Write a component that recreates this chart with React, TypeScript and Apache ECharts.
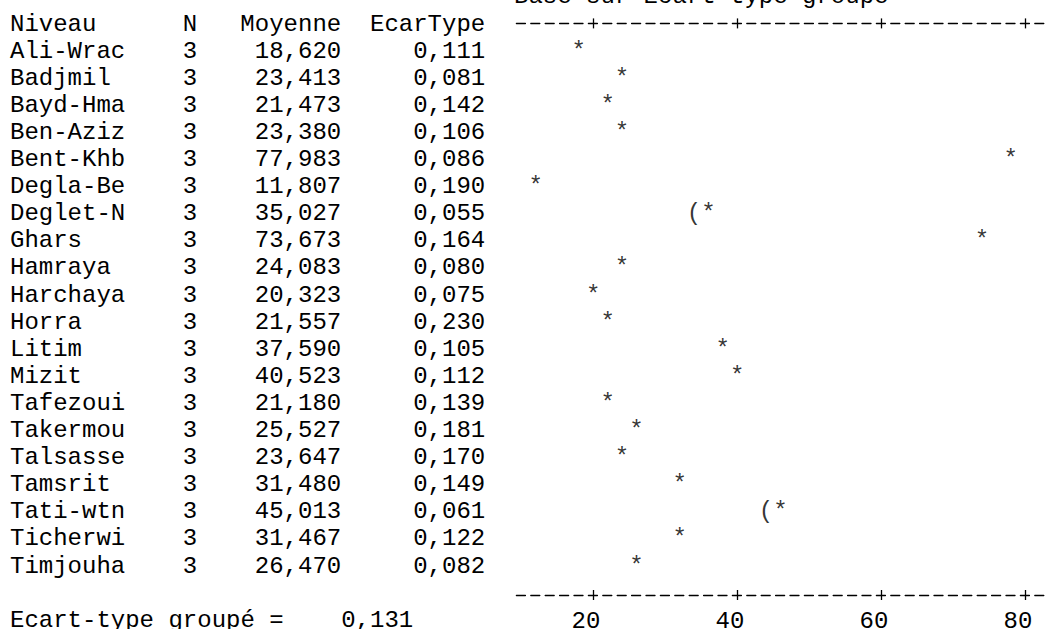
import React, { useEffect, useRef } from "react";
import * as echarts from "echarts";

// ---- data ----
const levels = [
  "Ali-Wrac", "Badjmil", "Bayd-Hma", "Ben-Aziz", "Bent-Khb", "Degla-Be", "Deglet-N",
  "Ghars", "Hamraya", "Harchaya", "Horra", "Litim", "Mizit", "Tafezoui", "Takermou",
  "Talsasse", "Tamsrit", "Tati-wtn", "Ticherwi", "Timjouha",
];
const counts = [3, 3, 3, 3, 3, 3, 3, 3, 3, 3, 3, 3, 3, 3, 3, 3, 3, 3, 3, 3];
const means = [
  18.62, 23.413, 21.473, 23.38, 77.983, 11.807, 35.027, 73.673, 24.083, 20.323,
  21.557, 37.59, 40.523, 21.18, 25.527, 23.647, 31.48, 45.013, 31.467, 26.47,
];
const stdevs = [
  0.111, 0.081, 0.142, 0.106, 0.086, 0.19, 0.055, 0.164, 0.08, 0.075,
  0.23, 0.105, 0.112, 0.139, 0.181, 0.17, 0.149, 0.061, 0.122, 0.082,
];
const pooledStdev = 0.131;
const tCritical = 2.021; // t(0.975; 40 dl)
const tickValues = [20, 40, 60, 80];
const axisMin = 9;
const axisMax = 83;
const unitsPerChar = 2; // character plot: one column = 2 units
const headers = ["Niveau", "N", "Moyenne", "EcarType"];
const titleText = "Basé sur Ecart-type groupé";
const pooledLabel = "Ecart-type groupé =";

// ---- layout / style ----
const FONT = "'Liberation Mono', 'Courier New', monospace";
const FS = 24;
const CW = 14.4; // char width
const X0 = 10; // left of column 0
const ROW = 27.1;
const Y0 = 24; // centre of header row
const GRID_LEFT = X0 + 35 * CW;
const GRID_W = (axisMax - axisMin) * (CW / unitsPerChar);
const GRID_TOP = Y0 + ROW * 0.5;
const GRID_H = ROW * levels.length;

const fmt = (v: number) => v.toFixed(3).replace(".", ",");
const snap = (v: number) =>
  tickValues[0] + unitsPerChar * Math.round((v - tickValues[0]) / unitsPerChar);

export default function App() {
  const ref = useRef<HTMLDivElement>(null);
  useEffect(() => {
    const chart = echarts.init(ref.current!, null, { renderer: "svg" });
    const txt = { fontFamily: FONT, fontSize: FS, color: "#000", lineHeight: 24 };
    const rowRich: any = {
      n: { ...txt, width: 12 * CW, align: "left" },
      c: { ...txt, width: CW, align: "left" },
      m: { ...txt, width: 10 * CW, align: "right" },
      s: { ...txt, width: 10 * CW, align: "right" },
    };

    const starData = means.map((m, i) => [snap(m), levels[i]]);
    const openData: any[] = [];
    const closeData: any[] = [];
    means.forEach((m, i) => {
      const h = (tCritical * pooledStdev) / Math.sqrt(counts[i]);
      const lo = snap(m - h);
      const hi = snap(m + h);
      if (lo !== snap(m)) openData.push([lo, levels[i]]);
      if (hi !== snap(m)) closeData.push([hi, levels[i]]);
    });

    const dashLine = {
      show: true,
      lineStyle: { color: "#000", width: 1.3, type: [9, 5.4], dashOffset: 11.7 },
    };
    const tickBase = {
      show: true,
      length: 5,
      customValues: tickValues,
      lineStyle: { color: "#000", width: 1.3 },
    };
    const baseX = {
      type: "value",
      min: axisMin,
      max: axisMax,
      splitLine: { show: false },
      gridIndex: 0,
    };
    const gtext = (text: string, x: number, y: number, align: string) => ({
      type: "text",
      x,
      y,
      silent: true,
      style: {
        text,
        font: `${FS}px ${FONT}`,
        fill: "#000",
        align,
        textAlign: align,
        verticalAlign: "middle",
        textVerticalAlign: "middle",
      },
    });

    const labelStyle = (ch: string) => ({
      show: true,
      position: "inside",
      formatter: ch,
      fontFamily: FONT,
      fontSize: FS,
      color: "#000",
    });
    const scatterBase = {
      type: "scatter",
      symbol: "circle",
      symbolSize: 1,
      itemStyle: { color: "rgba(0,0,0,0)" },
      silent: true,
      xAxisIndex: 0,
      yAxisIndex: 0,
    };

    chart.setOption({
      animation: false,
      backgroundColor: "#fff",
      grid: {
        left: GRID_LEFT,
        top: GRID_TOP,
        width: GRID_W,
        height: GRID_H,
        containLabel: false,
        outerBoundsMode: "none",
      },
      xAxis: [
        {
          ...baseX,
          position: "bottom",
          offset: 595 - (GRID_TOP + GRID_H),
          axisLine: dashLine,
          axisTick: { ...tickBase, inside: false },
          axisLabel: {
            show: true,
            customValues: tickValues,
            margin: 26,
            verticalAlign: "middle",
            formatter: (v: number) => `{a|${v}}`,
            rich: { a: { ...txt, width: 3 * CW, align: "left" } },
          },
        },
        {
          ...baseX,
          position: "bottom",
          offset: 595 - (GRID_TOP + GRID_H),
          axisLine: { show: false },
          axisTick: { ...tickBase, inside: true },
          axisLabel: { show: false },
        },
        {
          ...baseX,
          position: "top",
          offset: GRID_TOP - 23.4,
          axisLine: dashLine,
          axisTick: { ...tickBase, inside: false },
          axisLabel: { show: false },
        },
        {
          ...baseX,
          position: "top",
          offset: GRID_TOP - 23.4,
          axisLine: { show: false },
          axisTick: { ...tickBase, inside: true },
          axisLabel: { show: false },
        },
      ],
      yAxis: {
        type: "category",
        data: levels,
        inverse: true,
        axisLine: { show: false },
        axisTick: { show: false },
        splitLine: { show: false },
        axisLabel: {
          interval: 0,
          margin: GRID_LEFT - (X0 + 33 * CW),
          formatter: (_v: string, i: number) =>
            `{n|${levels[i]}}{c|${counts[i]}}{m|${fmt(means[i])}}{s|${fmt(stdevs[i])}}`,
          rich: rowRich,
        },
      },
      graphic: [
        gtext(titleText, X0 + 35 * CW, Y0 - ROW, "left"),
        gtext(headers[0], X0, Y0, "left"),
        gtext(headers[1], X0 + 12 * CW, Y0, "left"),
        gtext(headers[2], X0 + 23 * CW, Y0, "right"),
        gtext(headers[3], X0 + 33 * CW, Y0, "right"),
        gtext(pooledLabel, X0, Y0 + ROW * 22, "left"),
        gtext(fmt(pooledStdev), X0 + 23 * CW, Y0 + ROW * 22, "left"),
      ],
      series: [
        { ...scatterBase, name: "Moyenne", data: starData, label: labelStyle("*") },
        { ...scatterBase, name: "IC inf", data: openData, label: labelStyle("(") },
        { ...scatterBase, name: "IC sup", data: closeData, label: labelStyle(")") },
      ],
    });
    return () => chart.dispose();
  }, []);
  return (
    <div
      ref={ref}
      style={{ position: "fixed", left: 0, top: 0, width: 1046, height: 629, background: "#fff" }}
    />
  );
}
